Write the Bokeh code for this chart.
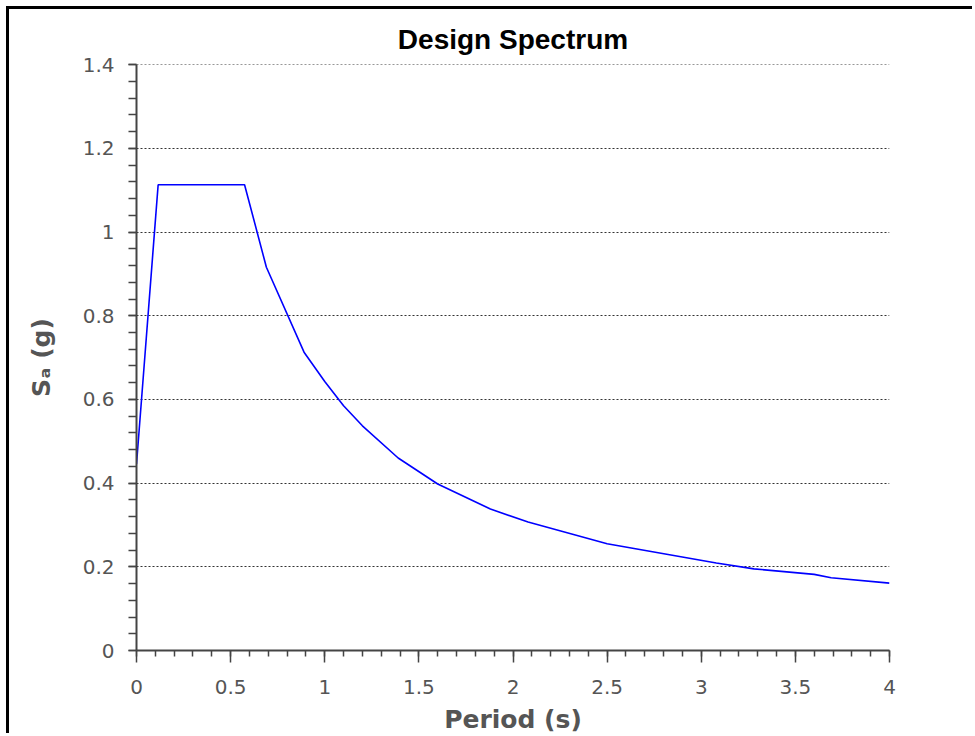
import numpy as np
from bokeh.plotting import figure
from bokeh.models import FixedTicker
from bokeh.embed import file_html
from bokeh.resources import INLINE

# Design spectrum values
period = [0.0, 0.115, 0.574, 0.69, 0.89, 1.0, 1.1, 1.2, 1.39, 1.6, 1.88, 2.08,
          2.5, 3.08, 3.28, 3.6, 3.69, 4.0]
sa = [0.445, 1.113, 1.113, 0.916, 0.713, 0.643, 0.585, 0.537, 0.46, 0.398,
      0.338, 0.307, 0.255, 0.209, 0.195, 0.182, 0.174, 0.161]

x_ticks = [0, 0.5, 1, 1.5, 2, 2.5, 3, 3.5, 4]
x_tick_labels = ["0", "0.5", "1", "1.5", "2", "2.5", "3", "3.5", "4"]
y_ticks = [0, 0.2, 0.4, 0.6, 0.8, 1, 1.2, 1.4]
y_tick_labels = ["0", "0.2", "0.4", "0.6", "0.8", "1", "1.2", "1.4"]

title_text = "Design Spectrum"
x_label = "Period (s)"
y_label = "S\u2090 (g)"

p = figure(width=966, height=727, x_range=(0, 4), y_range=(0, 1.4005),
           output_backend="svg", toolbar_location=None,
           min_border_left=127, min_border_right=86,
           min_border_top=55, min_border_bottom=86)
p.styles = {"border-left": "3px solid black", "border-top": "3px solid black",
            "margin-left": "6px", "margin-top": "6px"}
p.outline_line_color = None
p.background_fill_color = "white"
p.border_fill_color = "white"

p.title.text = title_text
p.title.align = "center"
p.title.text_font = "Liberation Sans"
p.title.text_font_style = "bold"
p.title.text_font_size = "28px"
p.title.text_color = "black"
p.title.standoff = 20

x_minor = list(np.round(np.arange(0, 4.0001, 0.1), 3))
y_minor = list(np.round(np.arange(0, 1.4001, 0.04), 3))
p.xaxis.ticker = FixedTicker(ticks=x_ticks, minor_ticks=x_minor)
p.yaxis.ticker = FixedTicker(ticks=y_ticks, minor_ticks=y_minor)
p.xaxis.major_label_overrides = {float(t): l for t, l in zip(x_ticks, x_tick_labels)}
p.yaxis.major_label_overrides = {float(t): l for t, l in zip(y_ticks, y_tick_labels)}

axis_col = "#444444"
for ax in (p.xaxis[0], p.yaxis[0]):
    ax.axis_line_color = axis_col
    ax.axis_line_width = 2
    ax.major_tick_line_color = axis_col
    ax.minor_tick_line_color = axis_col
    ax.major_tick_line_width = 1.5
    ax.minor_tick_line_width = 1.5
    ax.major_tick_in = 0
    ax.minor_tick_in = 0
    ax.major_label_text_font = "DejaVu Sans"
    ax.major_label_text_font_size = "20px"
    ax.major_label_text_color = "#555555"
    ax.axis_label_text_font = "DejaVu Sans"
    ax.axis_label_text_font_style = "bold"
    ax.axis_label_text_font_size = "25px"
    ax.axis_label_text_color = "#555555"

p.xaxis.axis_label = x_label
p.yaxis.axis_label = y_label
p.xaxis.major_tick_out = 12
p.xaxis.minor_tick_out = 6
p.yaxis.major_tick_out = 8
p.yaxis.minor_tick_out = 8
p.xaxis.major_label_standoff = 17
p.yaxis.major_label_standoff = 14
p.xaxis.axis_label_standoff = 8
p.yaxis.axis_label_standoff = 24

p.xgrid.visible = False
p.ygrid.ticker = FixedTicker(ticks=y_ticks)
p.ygrid.grid_line_color = "#333333"
p.ygrid.grid_line_dash = "2 2"
p.ygrid.grid_line_width = 1

p.line(period, sa, line_color="#0000ff", line_width=1.6)

open("out.html", "w").write(file_html(p, INLINE))
